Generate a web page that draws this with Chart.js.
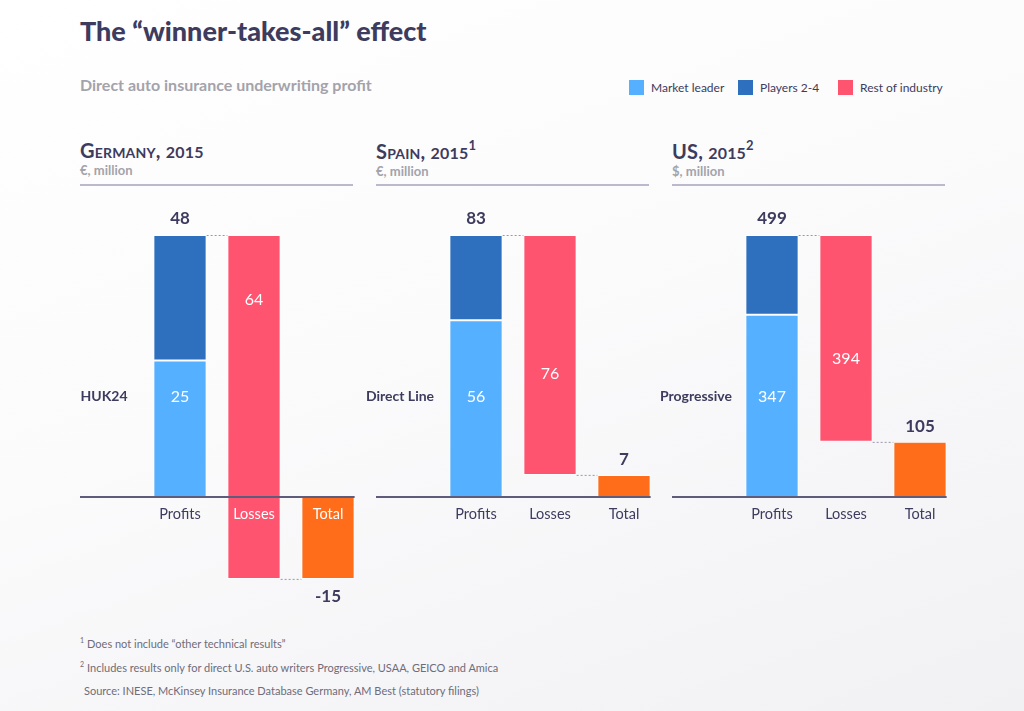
<!DOCTYPE html>
<html>
<head>
<meta charset="utf-8">
<script src="https://cdn.jsdelivr.net/npm/chart.js@4.4.1/dist/chart.umd.min.js"></script>
<style>
  html, body { margin: 0; padding: 0; }
  body {
    width: 1024px; height: 711px; position: relative; overflow: hidden;
    font-family: Lato, 'Open Sans', sans-serif; color: #3d3b5e;
    background: linear-gradient(160deg, #ffffff 0%, #fbfbfc 45%, #f1f1f4 100%);
  }
  .abs { position: absolute; white-space: nowrap; }
  #title { left: 80px; top: 14px; font-size: 27px; font-weight: 900; }
  #subtitle { left: 80px; top: 75px; font-size: 16px; font-weight: 700; color: #a3a3ab; }
  .legend { top: 80px; font-size: 12px; display: flex; align-items: center; }
  .legend span.box { width: 15px; height: 15px; display: inline-block; margin-right: 7px; }
  .phead { top: 138px; width: 273px; height: 46px; border-bottom: 2px solid #bcb9cc; }
  .phead .name { font-size: 20px; font-weight: 700; font-variant: small-caps; letter-spacing: 0.2px; }
  .phead .name .yr { font-size: 16px; }
  .phead .name sup { font-size: 13px; font-variant: normal; position: relative; top: -1px; }
  .phead .unit { font-size: 13px; font-weight: 700; color: #a3a3ab; margin-top: 0px; }
  .panel { top: 195px; }
  .note { left: 80px; font-size: 11px; color: #6e6c7a; }
  .note sup { font-size: 7px; margin-right: 3px; }
</style>
</head>
<body>
<div id="title" class="abs">The “winner-takes-all” effect</div>
<div id="subtitle" class="abs">Direct auto insurance underwriting profit</div>
<div id="legend"></div>
<div id="panels"></div>
<div class="abs note" style="top:636px;"><sup>1</sup>Does not include “other technical results”</div>
<div class="abs note" style="top:660px;"><sup>2</sup>Includes results only for direct U.S. auto writers Progressive, USAA, GEICO and Amica</div>
<div class="abs note" style="top:684px; left:84px;">Source: INESE, McKinsey Insurance Database Germany, AM Best (statutory filings)</div>
<script>
// chart data
const categories = ['Profits', 'Losses', 'Total'];
const countries = ['Germany', 'Spain', 'US'];
const years = ['2015', '2015', '2015'];
const noteMarks = ['', '1', '2'];
const units = ['€, million', '€, million', '$, million'];
const leaders = ['HUK24', 'Direct Line', 'Progressive'];
const marketLeader = [25, 56, 347];
const profits = [48, 83, 499];   // market leader + players 2-4
const losses = [64, 76, 394];
const totals = [-15, 7, 105];
const seriesNames = ['Market leader', 'Players 2-4', 'Rest of industry'];

const colors = ['#55b0ff', '#2e70be', '#ff5470', '#ff6d1a'];
const dark = '#3d3b5e';
const panelLeft = [80, 376, 672];
const lossLabelPos = [0.19, 0.58, 0.6]; // where the loss number sits inside its bar

// legend
const legendX = [629, 738, 838];
seriesNames.forEach((name, i) => {
  const d = document.createElement('div');
  d.className = 'abs legend';
  d.style.left = legendX[i] + 'px';
  d.innerHTML = `<span class="box" style="background:${colors[i]}"></span>${name}`;
  document.body.appendChild(d);
});

const PAD = 20, W = 305, H = 430;

const waterfallLabels = {
  id: 'waterfallLabels',
  afterDatasetsDraw(chart, args, opts) {
    const { ctx, scales: { x, y } } = chart;
    const i = opts.idx;
    const barW = chart.getDatasetMeta(0).data[0].width;
    const cx = k => x.getPixelForValue(k);
    const zero = y.getPixelForValue(0);
    ctx.save();

    // connectors
    ctx.strokeStyle = '#9a98a8';
    ctx.lineWidth = 1;
    ctx.setLineDash([2, 2]);
    const yp = y.getPixelForValue(profits[i]);
    const yt = y.getPixelForValue(totals[i]);
    ctx.beginPath();
    ctx.moveTo(cx(0) + barW / 2, yp + 0.5); ctx.lineTo(cx(1) - barW / 2, yp + 0.5);
    ctx.moveTo(cx(1) + barW / 2, yt + 0.5); ctx.lineTo(cx(2) - barW / 2, yt + 0.5);
    ctx.stroke();
    ctx.setLineDash([]);

    // baseline
    ctx.strokeStyle = '#5e5b7b';
    ctx.lineWidth = 2;
    ctx.beginPath();
    ctx.moveTo(PAD, zero); ctx.lineTo(cx(2) + barW / 2, zero);
    ctx.stroke();

    ctx.textAlign = 'center';
    ctx.textBaseline = 'middle';

    // category labels
    ctx.font = '14.5px Lato';
    const mins = [0, totals[i], Math.min(0, totals[i])];
    categories.forEach((c, k) => {
      ctx.fillStyle = mins[k] < 0 ? '#ffffff' : dark;
      ctx.fillText(c, cx(k), zero + 17);
    });

    // totals
    ctx.font = '700 17px Lato';
    ctx.fillStyle = dark;
    ctx.fillText(String(profits[i]), cx(0), yp - 16);
    ctx.fillText(String(totals[i]), cx(2), totals[i] < 0 ? yt + 18 : yt - 15);

    // inner values
    ctx.font = '16px Lato';
    ctx.fillStyle = '#ffffff';
    ctx.fillText(String(marketLeader[i]), cx(0), 202);
    ctx.fillText(String(losses[i]), cx(1), yp + (yt - yp) * lossLabelPos[i]);

    // market leader name
    ctx.font = '700 14px Lato';
    ctx.fillStyle = dark;
    ctx.fillText(leaders[i], PAD + 24, 201);
    ctx.restore();
  }
};

countries.forEach((country, i) => {
  const head = document.createElement('div');
  head.className = 'abs phead';
  head.style.left = panelLeft[i] + 'px';
  head.innerHTML = `<div class="name">${country}, <span class="yr">${years[i]}</span>` +
    `${noteMarks[i] ? '<sup>' + noteMarks[i] + '</sup>' : ''}</div>` +
    `<div class="unit">${units[i]}</div>`;
  document.body.appendChild(head);

  const wrap = document.createElement('div');
  wrap.className = 'abs panel';
  wrap.style.left = (panelLeft[i] - PAD) + 'px';
  const canvas = document.createElement('canvas');
  canvas.width = W; canvas.height = H;
  wrap.appendChild(canvas);
  document.body.appendChild(wrap);

  // zero sits at 302px, the profits top at 40px from the canvas top
  const ppu = 262 / profits[i];
  const ymax = profits[i] + 40 / ppu;
  const ymin = -(H - 302) / ppu;

  new Chart(canvas, {
    type: 'bar',
    data: {
      labels: categories,
      datasets: [
        { label: seriesNames[0], data: [[0, marketLeader[i]], null, null], backgroundColor: colors[0] },
        { label: seriesNames[1], data: [[marketLeader[i], profits[i]], null, null], backgroundColor: colors[1] },
        { label: seriesNames[2], data: [null, [profits[i], totals[i]], null], backgroundColor: colors[2] },
        { label: 'Total', data: [null, null, [0, totals[i]]], backgroundColor: colors[3] },
      ].map(ds => ({ ...ds, grouped: false, borderColor: '#ffffff', borderWidth: 1,
        borderSkipped: false, barPercentage: 0.72, categoryPercentage: 1 })),
    },
    options: {
      responsive: false,
      animation: false,
      devicePixelRatio: 1,
      layout: { padding: { left: 63 + PAD, right: 0, top: 0, bottom: 0 } },
      scales: {
        x: { display: false, offset: true },
        y: { display: false, min: ymin, max: ymax },
      },
      plugins: {
        legend: { display: false },
        tooltip: { enabled: false },
        waterfallLabels: { idx: i },
      },
    },
    plugins: [waterfallLabels],
  });
});
</script>
</body>
</html>
